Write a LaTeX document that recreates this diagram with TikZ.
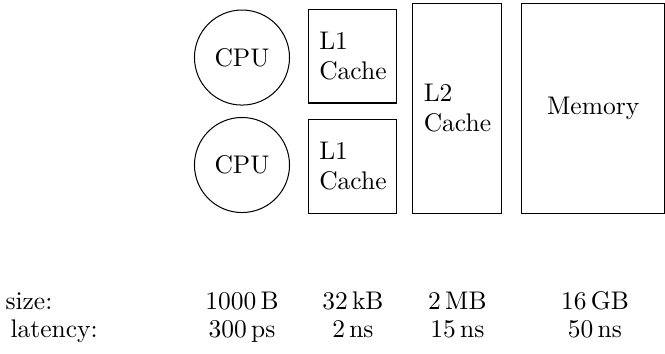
\documentclass[tikz,border=0pt]{standalone}
\usetikzlibrary{shapes}

\tikzset{
  core/.style={draw,circle,minimum size=1.31cm,inner sep=0pt},
  store/.style={draw,rectangle,align=left,inner sep=0pt},
  figure/.style={anchor=base,inner sep=0pt},
}

\begin{document}
\begin{tikzpicture}
  \newcommand{\rowsize}{0.593}
  \newcommand{\rowlat}{0.207}
  \useasboundingbox (0,0) rectangle (9.165,4.865);

% processors
  \node[core] (cpu1) at (3.335,4.072) {CPU};
  \node[core] (cpu2) at (3.335,2.591) {CPU};

% caches
  \node[store,minimum width=1.213cm,minimum height=1.295cm] (lone1) at (4.864,4.093) {L1\\Cache};
  \node[store,minimum width=1.213cm,minimum height=1.295cm] (lone2) at (4.864,2.577) {L1\\Cache};
  \node[store,minimum width=1.227cm,minimum height=2.894cm] (ltwo) at (6.304,3.376) {L2\\Cache};

% main memory
  \node[store,minimum width=1.964cm,minimum height=2.894cm] (mem) at (8.175,3.376) {Memory};

% sizes and latencies
  \node[figure,anchor=base west] (sizelabel) at (0.069,\rowsize) {size:};
  \node[figure,anchor=base west] (latlabel) at (0.138,\rowlat) {latency:};
  \foreach \x/\name/\size/\lat in {3.335/cpu/1000\,B/300\,ps,4.864/lone/32\,kB/2\,ns,6.304/ltwo/2\,MB/15\,ns,8.199/mem/16\,GB/50\,ns}{
    \node[figure] (size-\name) at (\x,\rowsize) {\size};
    \node[figure] (lat-\name) at (\x,\rowlat) {\lat};
  }

\end{tikzpicture}
\end{document}
